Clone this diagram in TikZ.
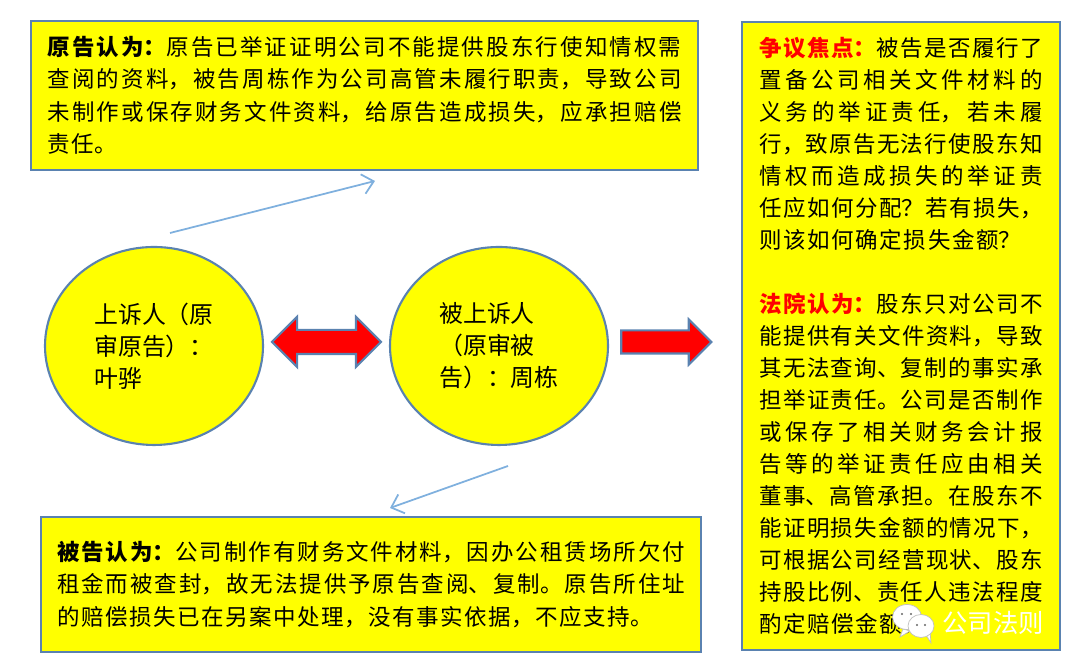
\documentclass[tikz,border=0pt]{standalone}
\usepackage{fontspec}
\setmainfont{Noto Sans CJK SC}
\usetikzlibrary{shapes.geometric,shapes.arrows,arrows.meta}
\XeTeXlinebreaklocale "zh"
\XeTeXlinebreakskip=0.45pt plus 1.5pt minus 0.3pt
\definecolor{edgeblue}{HTML}{5A82B0}
\definecolor{thinblue}{HTML}{7FB0DE}
\definecolor{boxyellow}{HTML}{FFFF00}
\definecolor{arrowred}{HTML}{FF0000}
\newcommand{\lead}[1]{\textbf{#1}}
\newcommand{\redlead}[1]{\textbf{\textcolor{arrowred}{#1}}}
\tikzset{
	textbox/.style={draw=edgeblue, fill=boxyellow, line width=0.6pt, rectangle, align=justify, inner ysep=0pt, font=\fontsize{6.4}{9.25}\selectfont},
	party/.style={draw=edgeblue, fill=boxyellow, line width=0.6pt, ellipse, minimum width=2.18cm, minimum height=1.98cm, inner sep=0pt, align=left, font=\fontsize{6.8}{9.1}\selectfont},
	bigarrow/.style={draw=edgeblue, fill=arrowred, line width=0.6pt, inner xsep=0pt},
	thinarrow/.style={thinblue, line width=0.5pt, -{Straight Barb[length=1.1mm,width=2mm]}},
	bubble/.style={fill=white, draw=black!25, line width=0.2pt}
}
\begin{document}
\begin{tikzpicture}
	\useasboundingbox (0,0) rectangle (10.8,6.71);
	% boxes
	\node [textbox, text width=6.34cm, inner xsep=0.165cm, minimum height=1.49cm] (plaintiffview) at (3.645,5.755) {\lead{原告认为：}原告已举证证明公司不能提供股东行使知情权需\linebreak
		查阅的资料，被告周栋作为公司高管未履行职责，导致公司\linebreak
		未制作或保存财务文件资料，给原告造成损失，应承担赔偿\linebreak
		责任。};
	\node [textbox, text width=6.28cm, inner xsep=0.16cm, minimum height=1.35cm] (defendantview) at (3.71,0.865) {\lead{被告认为：}公司制作有财务文件材料，因办公租赁场所欠付\linebreak
		租金而被查封，故无法提供予原告查阅、复制。原告所住址\linebreak
		的赔偿损失已在另案中处理，没有事实依据，不应支持。};
	\node [textbox, text width=2.83cm, inner xsep=0.175cm, minimum height=6.28cm, font=\fontsize{6.4}{9.1}\selectfont] (court) at (9.01,3.35) {\redlead{争议焦点：}被告是否履行了\linebreak
		置备公司相关文件材料的\linebreak
		义务的举证责任，若未履\linebreak
		行，致原告无法行使股东知\linebreak
		情权而造成损失的举证责\linebreak
		任应如何分配？若有损失，\linebreak
		则该如何确定损失金额？\par
		\mbox{}\par
		\redlead{法院认为：}股东只对公司不\linebreak
		能提供有关文件资料，导致\linebreak
		其无法查询、复制的事实承\linebreak
		担举证责任。公司是否制作\linebreak
		或保存了相关财务会计报\linebreak
		告等的举证责任应由相关\linebreak
		董事、高管承担。在股东不\linebreak
		能证明损失金额的情况下，\linebreak
		可根据公司经营现状、股东\linebreak
		持股比例、责任人违法程度\linebreak
		酌定赔偿金额。};
	% parties
	\node [party] (appellant) at (1.54,3.25) {上诉人（原\\审原告）：\\叶骅};
	\node [party] (appellee) at (4.99,3.25) {被上诉人\\（原审被\\告）：周栋};
	% arrows
	\node [bigarrow, double arrow, double arrow head extend=0.13cm, inner ysep=0.11cm, minimum height=1.09cm] (dispute) at (3.265,3.29) {};
	\node [bigarrow, single arrow, single arrow head extend=0.11cm, inner ysep=0.105cm, minimum height=0.9cm] (result) at (6.605,3.29) {};
	\coordinate (upstart) at (1.70,4.38);
	\coordinate (upend) at (3.75,4.90);
	\coordinate (downstart) at (5.08,2.05);
	\coordinate (downend) at (3.90,1.63);
	\draw [thinarrow] (upstart) -- (upend);
	\draw [thinarrow] (downstart) -- (downend);
	% mark in the corner
	\draw [bubble] (9.03,0.42) -- (9.00,0.34) -- (9.10,0.40) -- cycle;
	\draw [bubble] (9.07,0.54) ellipse [x radius=0.145, y radius=0.125];
	\fill [black!60] (9.02,0.57) circle [radius=0.012];
	\fill [black!60] (9.11,0.57) circle [radius=0.012];
	\draw [bubble] (9.26,0.36) -- (9.31,0.28) -- (9.30,0.40) -- cycle;
	\draw [bubble] (9.21,0.45) ellipse [x radius=0.13, y radius=0.115];
	\fill [black!60] (9.17,0.46) circle [radius=0.012];
	\fill [black!60] (9.25,0.46) circle [radius=0.012];
	\node [white, font=\fontsize{7.2}{8}\selectfont, inner sep=0pt] (mark) at (9.93,0.48) {公司法则};
\end{tikzpicture}
\end{document}
